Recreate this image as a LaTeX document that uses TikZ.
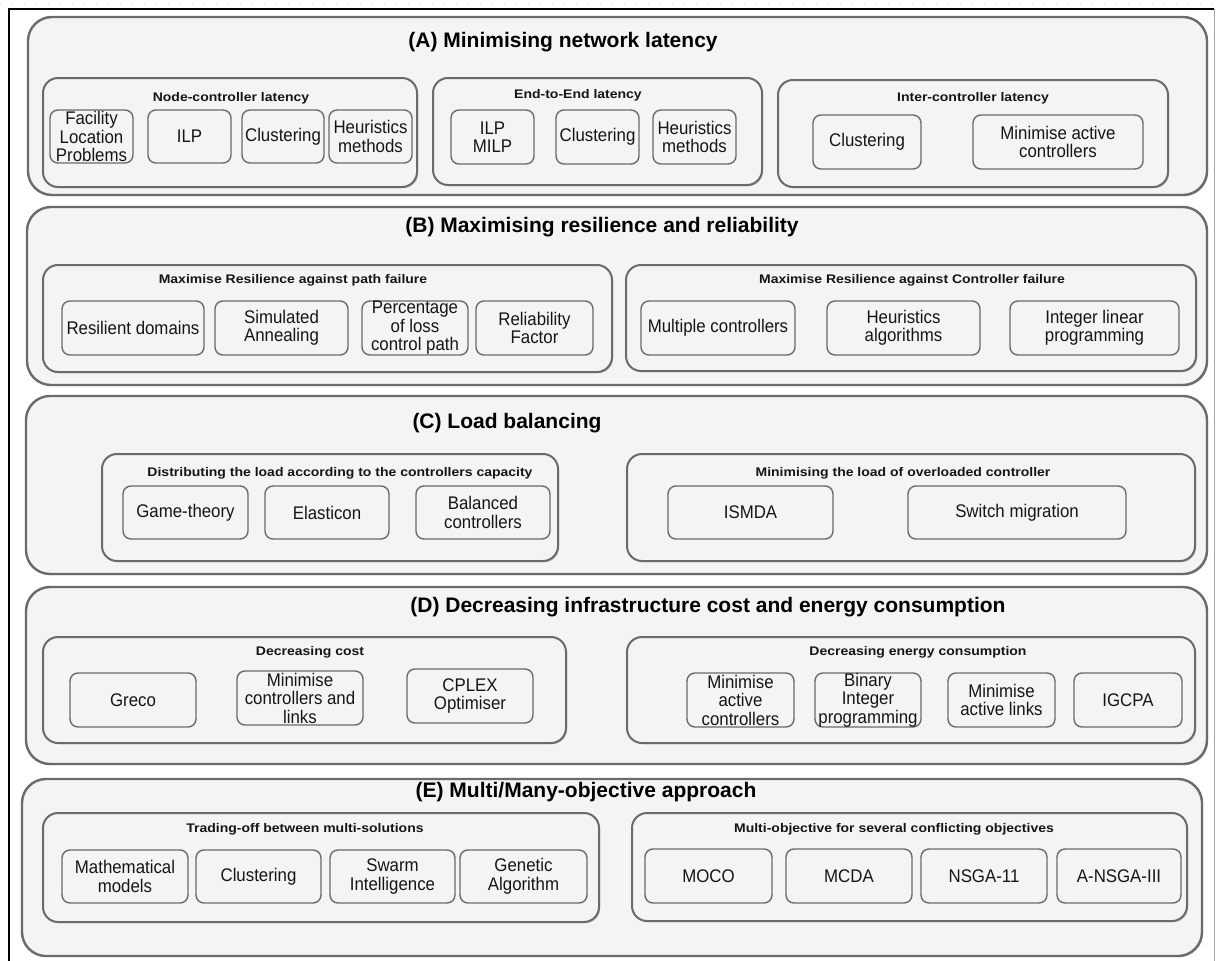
\documentclass[tikz,border=0pt]{standalone}
\usepackage{fontspec}
\setmainfont{Liberation Sans}
\newfontfamily\subfam[FakeStretch=1.12]{Liberation Sans}
\newfontfamily\itemfam[FakeStretch=0.92]{Liberation Sans}
\usetikzlibrary{shadows}
\definecolor{edgegray}{HTML}{6B6B6B}
\definecolor{boxfill}{HTML}{F4F4F4}
\definecolor{inkc}{HTML}{151515}
% \mkbox{style}{name}{x1}{y1}{x2}{y2}{text}: a rounded box given by its corners
\newcommand\mkbox[7]{%
  \node[#1, minimum width={(#5-#3)*1pt}, minimum height={(#6-#4)*1pt}]
    (#2) at ({(#3+#5)/2},{(#4+#6)/2}) {#7};}
\begin{document}
\begin{tikzpicture}[x=1pt, y=-1pt,
  softshadow/.style={drop shadow={shadow xshift=1.2pt, shadow yshift=-1.2pt, opacity=.3, fill=black!70}},
  panel/.style={draw=edgegray, fill=boxfill, line width=2.4pt, rounded corners=24pt, softshadow},
  group/.style={draw=edgegray, fill=boxfill, line width=2pt, rounded corners=15pt, softshadow},
  item/.style={draw=edgegray, fill=boxfill, line width=1.4pt, rounded corners=8pt, inner sep=0pt,
    align=center, text=inkc, font=\itemfam\fontsize{18.3}{18.5}\selectfont},
  title/.style={font=\fontsize{21}{25}\selectfont\bfseries, text=black, inner sep=0pt},
  subtitle/.style={font=\subfam\bfseries\fontsize{12.5}{15}\selectfont, text=inkc, inner sep=0pt}]
\useasboundingbox (0,0) rectangle (1219,961);
\fill[white] (0,0) rectangle (1219,961);
% page frame
\draw[gray!35, dash pattern=on 1pt off 11pt] (0,3) -- (1219,3);
\draw[black, line width=1.5pt] (9,961) -- (9,9) -- (1214,9);
\draw[gray!70, line width=0.8pt] (1214,9) -- (1214,961);

% ---------------- (A) ----------------
\mkbox{panel}{A}{28}{17}{1207}{195}{}
\node[title] (Atitle) at (563,42) {(A) Minimising network latency};
\mkbox{group}{A1}{43}{78}{417}{187}{}
\node[subtitle] (A1t) at (231,98) {Node-controller latency};
\mkbox{item}{a11}{50}{110}{133}{163}{Facility\\Location\\Problems}
\mkbox{item}{a12}{148}{110}{231}{163}{ILP}
\mkbox{item}{a13}{242}{110}{324}{163}{Clustering}
\mkbox{item}{a14}{329}{110}{412}{163}{Heuristics\\methods}
\mkbox{group}{A2}{433}{78}{762}{185}{}
\node[subtitle] (A2t) at (578,95) {End-to-End latency};
\mkbox{item}{a21}{451}{110}{534}{164}{ILP\\MILP}
\mkbox{item}{a22}{556}{110}{639}{164}{Clustering}
\mkbox{item}{a23}{653}{110}{736}{164}{Heuristics\\methods}
\mkbox{group}{A3}{778}{80}{1168}{187}{}
\node[subtitle] (A3t) at (973,98) {Inter-controller latency};
\mkbox{item}{a31}{813}{115}{921}{169}{Clustering}
\mkbox{item}{a32}{973}{115}{1143}{169}{Minimise active\\controllers}

% ---------------- (B) ----------------
\mkbox{panel}{B}{27}{207}{1207}{385}{}
\node[title] (Btitle) at (602,227) {(B) Maximising resilience and reliability};
\mkbox{group}{B1}{43}{265}{612}{372}{}
\node[subtitle] (B1t) at (293,280) {Maximise Resilience against path failure};
\mkbox{item}{b11}{62}{301}{204}{355}{Resilient domains}
\mkbox{item}{b12}{215}{301}{348}{355}{Simulated\\Annealing}
\mkbox{item}{b13}{362}{301}{468}{355}{Percentage\\of loss\\control path}
\mkbox{item}{b14}{476}{301}{593}{355}{Reliability\\Factor}
\mkbox{group}{B2}{626}{265}{1196}{371}{}
\node[subtitle] (B2t) at (912,280) {Maximise Resilience against Controller failure};
\mkbox{item}{b21}{641}{301}{795}{355}{Multiple controllers}
\mkbox{item}{b22}{827}{301}{980}{355}{Heuristics\\algorithms}
\mkbox{item}{b23}{1010}{301}{1179}{355}{Integer linear\\programming}

% ---------------- (C) ----------------
\mkbox{panel}{C}{26}{396}{1207}{574}{}
\node[title] (Ctitle) at (507,423) {(C) Load balancing};
\mkbox{group}{C1}{102}{454}{558}{561}{}
\node[subtitle] (C1t) at (340,473) {Distributing the load according to the controllers capacity};
\mkbox{item}{c11}{123}{486}{248}{539}{Game-theory}
\mkbox{item}{c12}{265}{486}{389}{539}{Elasticon}
\mkbox{item}{c13}{416}{486}{550}{539}{Balanced\\controllers}
\mkbox{group}{C2}{627}{454}{1195}{561}{}
\node[subtitle] (C2t) at (903,473) {Minimising the load of overloaded controller};
\mkbox{item}{c21}{668}{486}{833}{539}{ISMDA}
\mkbox{item}{c22}{908}{486}{1126}{539}{Switch migration}

% ---------------- (D) ----------------
\mkbox{panel}{D}{26}{587}{1207}{764}{}
\node[title] (Dtitle) at (708,607) {(D) Decreasing infrastructure cost and energy consumption};
\mkbox{group}{D1}{43}{637}{566}{743}{}
\node[subtitle] (D1t) at (310,652) {Decreasing cost};
\mkbox{item}{d11}{70}{673}{196}{727}{Greco}
\mkbox{item}{d12}{237}{671}{363}{725}{Minimise\\controllers and\\links}
\mkbox{item}{d13}{407}{669}{533}{723}{CPLEX\\Optimiser}
\mkbox{group}{D2}{627}{637}{1195}{743}{}
\node[subtitle] (D2t) at (918,652) {Decreasing energy consumption};
\mkbox{item}{d21}{687}{673}{794}{727}{Minimise\\active\\controllers}
\mkbox{item}{d22}{815}{673}{921}{727}{Binary\\Integer\\programming}
\mkbox{item}{d23}{948}{673}{1055}{727}{Minimise\\active links}
\mkbox{item}{d24}{1074}{673}{1182}{727}{IGCPA}

% ---------------- (E) ----------------
\mkbox{panel}{E}{22}{779}{1202}{956}{}
\node[title] (Etitle) at (586,792) {(E) Multi/Many-objective approach};
\mkbox{group}{E1}{43}{813}{599}{922}{}
\node[subtitle] (E1t) at (305,829) {Trading-off between multi-solutions};
\mkbox{item}{e11}{62}{850}{188}{903}{Mathematical\\models}
\mkbox{item}{e12}{196}{850}{321}{903}{Clustering}
\mkbox{item}{e13}{330}{850}{455}{903}{Swarm\\Intelligence}
\mkbox{item}{e14}{460}{850}{587}{903}{Genetic\\Algorithm}
\mkbox{group}{E2}{632}{813}{1187}{921}{}
\node[subtitle] (E2t) at (894,829) {Multi-objective for several conflicting objectives};
\mkbox{item}{e21}{645}{849}{772}{903}{MOCO}
\mkbox{item}{e22}{786}{849}{912}{903}{MCDA}
\mkbox{item}{e23}{921}{849}{1047}{903}{NSGA-11}
\mkbox{item}{e24}{1057}{849}{1181}{903}{A-NSGA-III}
\end{tikzpicture}
\end{document}
